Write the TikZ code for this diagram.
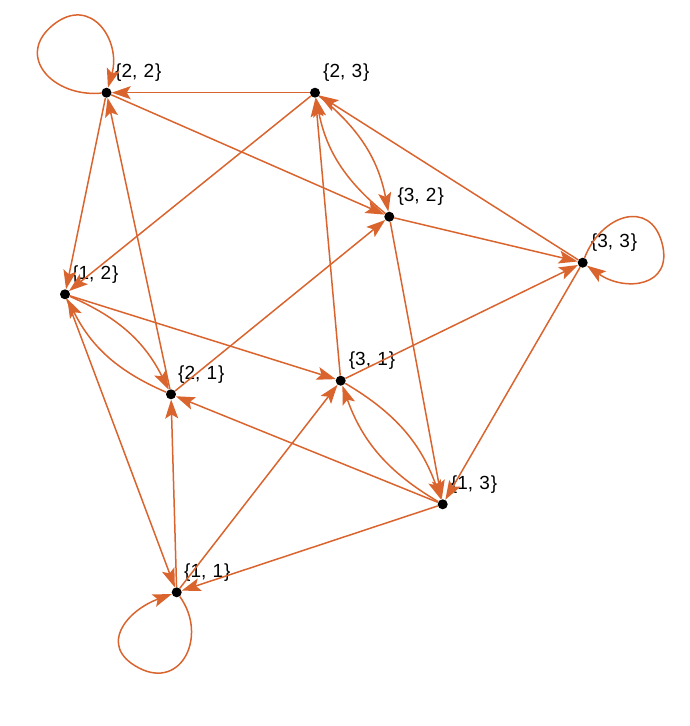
\documentclass[tikz,border=0pt]{standalone}
\usepackage{fontspec}
\setmainfont{Liberation Sans}
\usetikzlibrary{arrows.meta}
\definecolor{edgec}{RGB}{218,100,46}
\newcommand\vlab[2]{\{#1,\hspace{1pt} #2\hspace{1pt}\}}
\begin{document}
\begin{tikzpicture}[x=1pt,y=1pt,
  dot/.style={circle,fill=black,inner sep=0pt,minimum size=10pt},
  lbl/.style={anchor=base west,inner sep=0pt,font=\fontsize{19}{21}\selectfont},
  arr/.style={draw=edgec,line width=1.5pt,-{Stealth[length=19pt,width=13pt,inset=4pt]}},
  lp/.style={looseness=1.5},
  ]
\useasboundingbox (0,0) rectangle (690,726);
\node[dot] (n22) at (106.5,633.3) {};
\node[dot] (n23) at (315,633.3) {};
\node[dot] (n32) at (389.3,509.3) {};
\node[dot] (n33) at (582.7,463.3) {};
\node[dot] (n12) at (65,431.7) {};
\node[dot] (n31) at (340.7,345.3) {};
\node[dot] (n21) at (171,331.7) {};
\node[dot] (n13) at (442.7,221.7) {};
\node[dot] (n11) at (176.7,133.7) {};
\coordinate (f22) at (53,701);
\coordinate (f33) at (662,483);
\coordinate (f11) at (139,58);
\node[lbl] (l22) at (115,648.3) {\vlab{2}{2}};
\node[lbl] (l23) at (323,648.3) {\vlab{2}{3}};
\node[lbl] (l32) at (397.3,524.3) {\vlab{3}{2}};
\node[lbl] (l33) at (590.7,478.3) {\vlab{3}{3}};
\node[lbl] (l12) at (72,446.7) {\vlab{1}{2}};
\node[lbl] (l31) at (348.7,360.3) {\vlab{3}{1}};
\node[lbl] (l21) at (178,346.7) {\vlab{2}{1}};
\node[lbl] (l13) at (450.7,236.7) {\vlab{1}{3}};
\node[lbl] (l11) at (184,148.7) {\vlab{1}{1}};
\draw[arr] (n23) -- (n22);
\draw[arr] (n22) -- (n32);
\draw[arr] (n22) -- (n12);
\draw[arr] (n21) -- (n22);
\draw[arr] (n23) -- (n12);
\draw[arr] (n23) to[bend left=20] (n32);
\draw[arr] (n32) to[bend left=20] (n23);
\draw[arr] (n33) -- (n23);
\draw[arr] (n31) -- (n23);
\draw[arr] (n32) -- (n33);
\draw[arr] (n32) -- (n13);
\draw[arr] (n33) -- (n13);
\draw[arr] (n31) -- (n33);
\draw[arr] (n12) to[bend left=20] (n21);
\draw[arr] (n21) to[bend left=20] (n12);
\draw[arr] (n12) -- (n31);
\draw[arr] (n12) -- (n11);
\draw[arr] (n21) -- (n32);
\draw[arr] (n11) -- (n21);
\draw[arr] (n11) -- (n31);
\draw[arr] (n13) -- (n21);
\draw[arr] (n13) -- (n11);
\draw[arr] (n31) to[bend left=20] (n13);
\draw[arr] (n13) to[bend left=20] (n31);
\draw[arr] (n22) to[lp,out=185,in=219] (f22) to[lp,out=39,in=74] (n22);
\draw[arr] (n33) to[lp,out=69,in=105] (f33) to[lp,out=-75,in=-35] (n33);
\draw[arr] (n11) to[lp,out=-54,in=-27.5] (f11) to[lp,out=152.5,in=200] (n11);
\end{tikzpicture}
\end{document}
